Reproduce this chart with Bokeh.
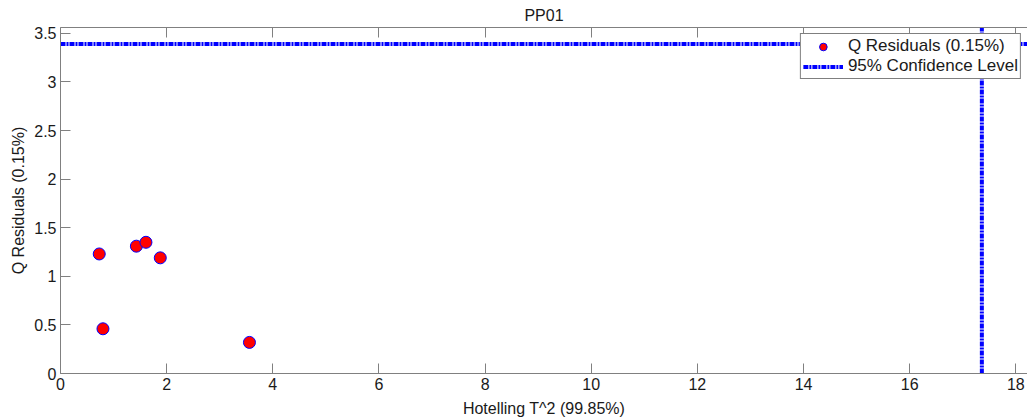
from bokeh.plotting import figure
from bokeh.models import Range1d, LinearAxis, Legend, LegendItem, FixedTicker, CustomJSTickFormatter
from bokeh.embed import file_html
from bokeh.resources import INLINE

# ---- data ----
t2_values = [0.73, 0.80, 1.43, 1.61, 1.88, 3.56]
q_values = [1.23, 0.46, 1.31, 1.35, 1.19, 0.32]
t2_limit = 17.36
q_limit = 3.39
x_ticks = [0, 2, 4, 6, 8, 10, 12, 14, 16, 18]
y_ticks = [0, 0.5, 1, 1.5, 2, 2.5, 3, 3.5]
x_max = 18.22
y_max = 3.56

FONT = "Liberation Sans"
AX = "#808080"
TXT = "#1a1a1a"

p = figure(width=1027, height=419, output_backend="svg", toolbar_location=None,
           x_range=Range1d(0, x_max), y_range=Range1d(0, y_max),
           min_border_left=60, min_border_right=0, min_border_top=0, min_border_bottom=0,
           x_axis_label="Hotelling T^2 (99.85%)", y_axis_label="Q Residuals (0.15%)")
p.xgrid.visible = False
p.ygrid.visible = False
p.outline_line_color = None
p.background_fill_color = "white"
p.border_fill_color = "white"

p.title.text = "PP01"
p.title.align = "center"
p.title.text_font = FONT
p.title.text_font_size = "16px"
p.title.text_font_style = "normal"
p.title.text_color = TXT
p.title.standoff = 8

def style_axis(ax, ticks):
    ax.ticker = FixedTicker(ticks=ticks)
    ax.axis_line_color = AX
    ax.major_tick_line_color = AX
    ax.major_tick_in = 10
    ax.major_tick_out = 0
    ax.minor_tick_line_color = None
    ax.major_label_text_font = FONT
    ax.major_label_text_font_size = "16px"
    ax.major_label_text_color = TXT
    ax.axis_label_text_font = FONT
    ax.axis_label_text_font_size = "16px"
    ax.axis_label_text_font_style = "normal"
    ax.axis_label_text_color = TXT

style_axis(p.xaxis[0], x_ticks)
style_axis(p.yaxis[0], y_ticks)
p.xaxis[0].major_label_standoff = 4
p.xaxis[0].axis_label_standoff = 7
p.yaxis[0].major_label_standoff = 4
p.yaxis[0].axis_label_standoff = 4

blank = CustomJSTickFormatter(code="return ''")
top = LinearAxis(formatter=blank, major_label_standoff=0)
style_axis(top, x_ticks)
p.add_layout(top, "above")

lim = p.multi_line(xs=[[0, x_max], [t2_limit, t2_limit]], ys=[[q_limit, q_limit], [0, y_max]],
                   line_color="#0000ff", line_width=4, line_dash="5 1 2 1")
sc = p.scatter(t2_values, q_values, size=12, fill_color="#ff0000", line_color="#0000ff", line_width=1)

legend = Legend(items=[LegendItem(label="Q Residuals (0.15%)", renderers=[sc]),
                       LegendItem(label="95% Confidence Level", renderers=[lim])],
                location="top_right")
legend.margin = 6
legend.padding = 2
legend.spacing = 0
legend.glyph_width = 40
legend.glyph_height = 19
legend.label_height = 19
legend.label_standoff = 5
legend.label_text_font = FONT
legend.label_text_font_size = "17px"
legend.label_text_color = TXT
legend.border_line_color = "black"
legend.border_line_width = 1
legend.background_fill_color = "white"
legend.background_fill_alpha = 1
p.add_layout(legend)

open("out.html", "w").write(file_html(p, INLINE))
